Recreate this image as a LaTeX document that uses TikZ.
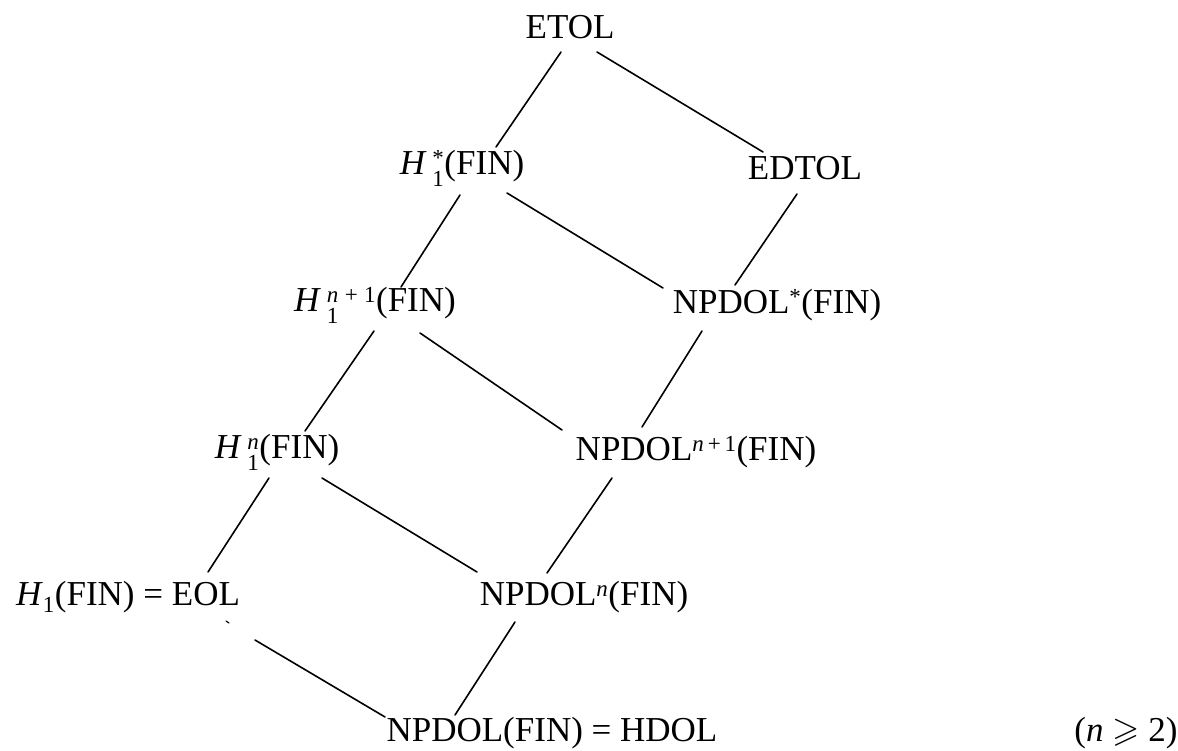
\documentclass[tikz,border=0pt]{standalone}
\usepackage{amsmath,amssymb}
\usepackage{fontspec}
\setmainfont{Liberation Serif}
\usetikzlibrary{calc}
\DeclareMathSizes{35}{35}{23}{17}
\newcommand{\Hl}[1]{\textit{H}\,$^{\text{#1}}_{\text{1}}$}
\tikzset{
  lbl/.style={inner sep=0pt, font=\fontsize{35}{40}\selectfont},
  edge/.style={line width=1.6pt, line cap=round}
}
\begin{document}
\begin{tikzpicture}[x=1pt,y=-1pt]
\useasboundingbox (0,0) rectangle (1178,751);
\node[lbl] (etol) at (570,27) {ETOL};
\node[lbl] (hs) at (462,168) {\Hl{*}(FIN)};
\node[lbl] (edtol) at (805,168) {EDTOL};
\node[lbl] (hn1) at (375,305) {\Hl{\itshape n\;\upshape+\;1}(FIN)};
\node[lbl] (ns) at (777,305) {NPDOL\textsuperscript{*}(FIN)};
\node[lbl] (hn) at (277,452) {\Hl{\itshape n}(FIN)};
\node[lbl] (nn1) at (696,452) {NPDOL\textsuperscript{\itshape n\,\upshape+\,1}(FIN)};
\node[lbl] (eol) at (128,597) {\textit{H}$_{\text{1}}$(FIN) = EOL};
\node[lbl] (nn) at (584,597) {NPDOL\textsuperscript{\itshape n}(FIN)};
\node[lbl] (hdol) at (552,733) {NPDOL(FIN) = HDOL};
\node[lbl] (cond) at (1126,733) {(\textit{n} $\geqslant$ 2)};
% connectors (offsets from node centres)
\draw[edge] ($(etol)+(-9,25)$) -- ($(hs)+(34,-21)$);
\draw[edge] ($(etol)+(27,25)$) -- ($(edtol)+(-42,-16)$);
\draw[edge] ($(hs)+(-2,27)$) -- ($(hn1)+(26,-18)$);
\draw[edge] ($(hs)+(45,25)$) -- ($(ns)+(-114,-17)$);
\draw[edge] ($(edtol)+(-8,26)$) -- ($(ns)+(-42,-20)$);
\draw[edge] ($(hn1)+(-1,26)$) -- ($(hn)+(28,-21)$);
\draw[edge] ($(hn1)+(45,28)$) -- ($(nn1)+(-134,-22)$);
\draw[edge] ($(ns)+(-75,26)$) -- ($(nn1)+(-54,-25)$);
\draw[edge] ($(hn)+(-8,26)$) -- ($(eol)+(80,-25)$);
\draw[edge] ($(hn)+(45,26)$) -- ($(nn)+(-107,-25)$);
\draw[edge] ($(nn1)+(-84,26)$) -- ($(nn)+(-37,-24)$);
\draw[edge] ($(eol)+(127,43)$) -- ($(hdol)+(-167,-16)$);
\draw[edge] ($(nn)+(-69,25)$) -- ($(hdol)+(-97,-18)$);
\draw[line width=1.2pt, line cap=round] ($(eol)+(98,24)$) -- ($(eol)+(101,26)$);
\end{tikzpicture}
\end{document}
